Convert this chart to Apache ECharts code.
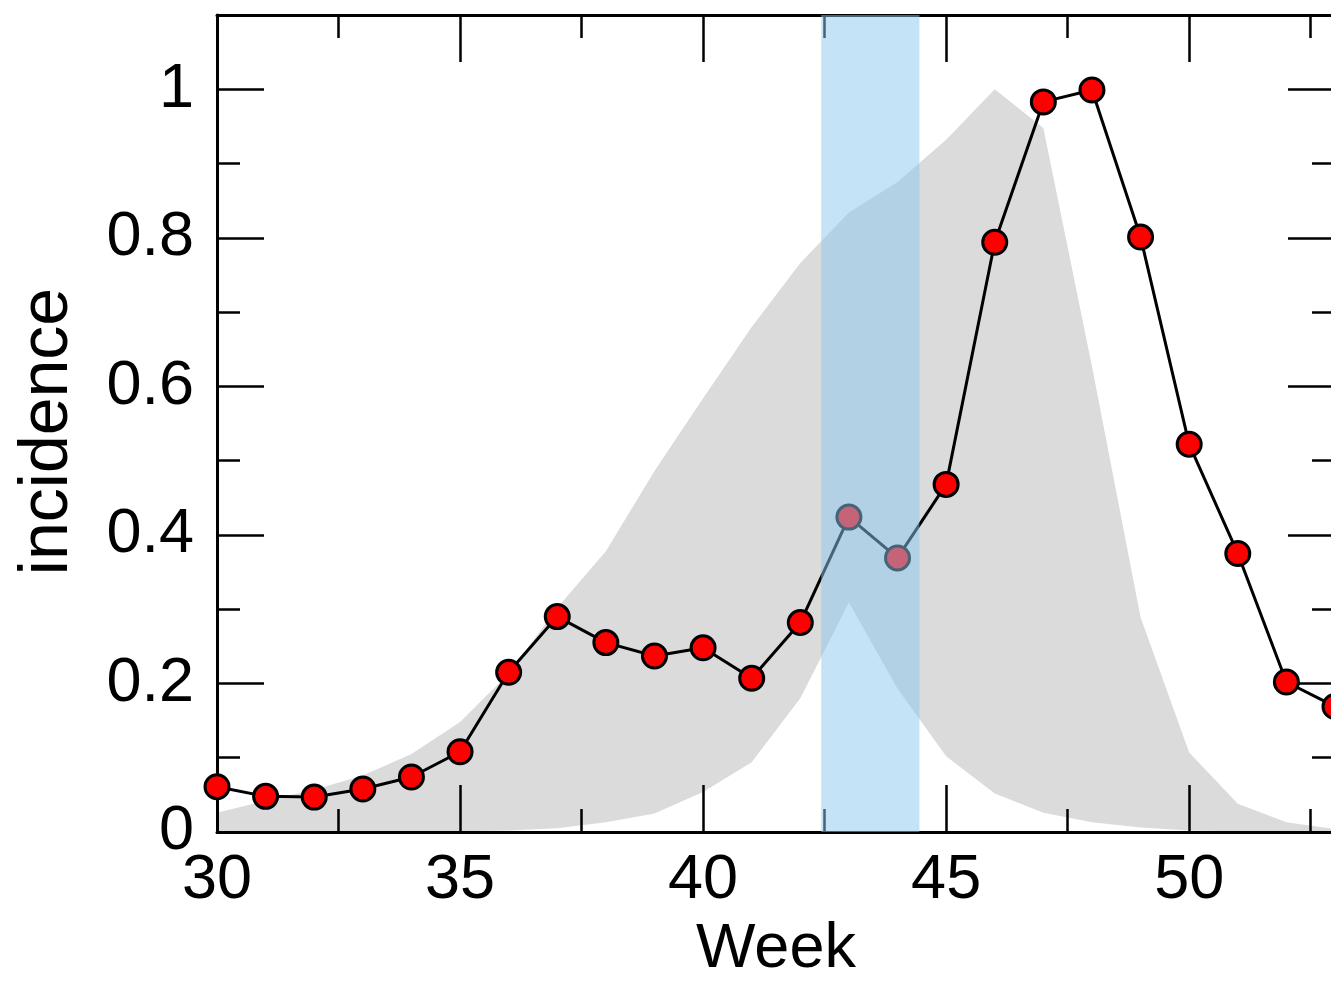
<!DOCTYPE html>
<html>
<head>
<meta charset="utf-8">
<script src="https://cdn.jsdelivr.net/npm/echarts@6/dist/echarts.min.js"></script>
<style>
html,body{margin:0;padding:0;background:#fff;}
#chart{width:1331px;height:982px;}
</style>
</head>
<body>
<div id="chart"></div>
<script>
// ---- data ----
const weeks = [30,31,32,33,34,35,36,37,38,39,40,41,42,43,44,45,46,47,48,49,50,51,52,53];
const incidence = [0.061,0.048,0.047,0.058,0.074,0.108,0.215,0.290,0.255,0.237,0.248,0.207,0.282,0.424,0.369,0.468,0.794,0.983,0.999,0.801,0.522,0.375,0.202,0.169];
const envUpper = [0.026,0.042,0.057,0.076,0.105,0.148,0.213,0.302,0.378,0.486,0.584,0.680,0.766,0.834,0.875,0.932,1.000,0.948,0.627,0.289,0.107,0.038,0.013,0.004];
const envLower = [0,0,0,0,0,0.001,0.002,0.005,0.013,0.025,0.054,0.094,0.180,0.309,0.193,0.102,0.052,0.026,0.013,0.006,0.002,0.001,0,0];
const bandWeeks = [42.43, 44.45];
const xLabelStep = 5;
const yTickLabels = [0, 0.2, 0.4, 0.6, 0.8, 1];

const FONT = "'Liberation Sans', Arial, Helvetica, sans-serif";
const X_MIN = 30, X_MAX = 53, Y_MIN = 0, Y_MAX = 1.1;

function xAxisDef(pos, interval, len, main) {
  const showLab = main && pos === 'bottom';
  return {
    type: 'value', gridIndex: 0, position: pos, min: X_MIN, max: X_MAX, interval: interval, z: 2,
    axisLine: {show: main, onZero: false, lineStyle: {color: '#000', width: 3}},
    axisTick: {show: true, inside: true, length: len, lineStyle: {color: '#000', width: 2.5}},
    axisLabel: {show: showLab, margin: 17, fontSize: 63, color: '#000', fontFamily: FONT,
      formatter: v => (Math.abs(v % xLabelStep) < 1e-6 ? String(v) : '')},
    splitLine: {show: false},
    name: showLab ? 'Week' : '', nameLocation: 'middle', nameGap: 86,
    nameTextStyle: {fontSize: 63, color: '#000', fontFamily: FONT}
  };
}
function yAxisDef(pos, interval, len, main) {
  const showLab = main && pos === 'left';
  return {
    type: 'value', gridIndex: 0, position: pos, min: Y_MIN, max: Y_MAX, interval: interval, z: 2,
    axisLine: {show: main, onZero: false, lineStyle: {color: '#000', width: 3}},
    axisTick: {show: true, inside: true, length: len, lineStyle: {color: '#000', width: 2.5}},
    axisLabel: {show: showLab, margin: 23, fontSize: 63, color: '#000', fontFamily: FONT,
      formatter: v => {
        const hit = yTickLabels.find(t => Math.abs(t - v) < 1e-6);
        return hit === undefined ? '' : String(hit);
      }},
    splitLine: {show: false},
    name: showLab ? 'incidence' : '', nameLocation: 'middle', nameGap: 135,
    nameTextStyle: {fontSize: 68, color: '#000', fontFamily: FONT, padding: [0, 16, 0, 0]}
  };
}

const envData = weeks.map((w, i) => [w, envUpper[i], envLower[i]]);
const pointData = weeks.map((w, i) => [w, incidence[i]]);

const chart = echarts.init(document.getElementById('chart'), null, {renderer: 'canvas'});
chart.setOption({
  animation: false,
  backgroundColor: '#fff',
  grid: {left: 217, top: 15, width: 1118, height: 817, containLabel: false, outerBoundsMode: 'none'},
  xAxis: [
    xAxisDef('bottom', 5, 47, true),
    xAxisDef('bottom', 2.5, 23, false),
    xAxisDef('top', 5, 47, true),
    xAxisDef('top', 2.5, 23, false)
  ],
  yAxis: [
    yAxisDef('left', 0.2, 47, true),
    yAxisDef('left', 0.1, 23, false),
    yAxisDef('right', 0.2, 47, true),
    yAxisDef('right', 0.1, 23, false)
  ],
  series: [
    {
      type: 'custom', xAxisIndex: 0, yAxisIndex: 0, data: envData,
      encode: {x: 0, y: [1, 2]}, z: 1, silent: true,
      renderItem: function (params, api) {
        if (params.dataIndex !== 0) return null;
        const pts = [];
        for (let i = 0; i < weeks.length; i++) pts.push(api.coord([weeks[i], envUpper[i]]));
        for (let i = weeks.length - 1; i >= 0; i--) pts.push(api.coord([weeks[i], envLower[i]]));
        return {type: 'polygon', shape: {points: pts}, style: {fill: '#dbdbdb', stroke: null}};
      }
    },
    {
      type: 'line', xAxisIndex: 0, yAxisIndex: 0, data: pointData,
      symbol: 'circle', symbolSize: 24, showAllSymbol: true,
      lineStyle: {color: '#000', width: 3},
      itemStyle: {color: '#ff0000', borderColor: '#000', borderWidth: 3},
      z: 3, clip: false
    },
    {
      type: 'line', xAxisIndex: 0, yAxisIndex: 0, data: pointData,
      symbol: 'none', lineStyle: {opacity: 0, width: 0}, z: 10, silent: true,
      markArea: {
        silent: true, z: 10,
        itemStyle: {color: 'rgba(139,200,240,0.5)'},
        data: [[{xAxis: bandWeeks[0], yAxis: Y_MIN}, {xAxis: bandWeeks[1], yAxis: Y_MAX}]]
      }
    }
  ]
});
</script>
</body>
</html>
